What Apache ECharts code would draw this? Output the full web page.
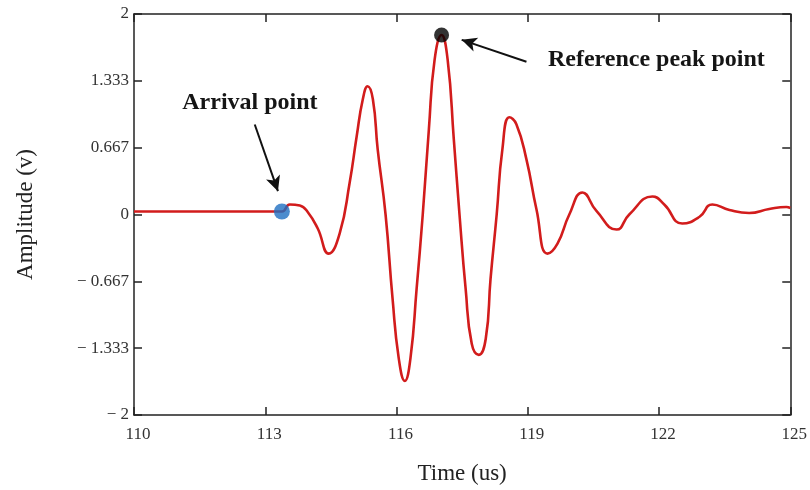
<!DOCTYPE html>
<html>
<head>
<meta charset="utf-8">
<script src="https://cdn.jsdelivr.net/npm/echarts@6/dist/echarts.min.js"></script>
<style>html,body{margin:0;padding:0;background:#fff}#c{width:810px;height:490px}</style>
</head>
<body>
<div id="c"></div>
<script>
// time (us)
var timeUs = [110.0, 111.0, 112.0, 113.0, 113.38, 113.56, 113.79, 113.97, 114.20, 114.45, 114.70, 114.93, 115.09, 115.23, 115.34, 115.46, 115.57, 115.75, 115.91, 116.05, 116.19, 116.32, 116.46, 116.60, 116.74, 116.87, 117.03, 117.17, 117.31, 117.44, 117.58, 117.72, 117.88, 118.04, 118.15, 118.29, 118.42, 118.58, 118.74, 118.97, 119.20, 119.45, 119.68, 119.95, 120.25, 120.57, 121.03, 121.32, 121.85, 122.12, 122.53, 122.92, 123.22, 123.61, 124.06, 124.52, 124.91, 125.0];
// amplitude (v)
var amplitude = [0.03, 0.03, 0.03, 0.03, 0.03, 0.10, 0.09, 0.025, -0.14, -0.39, -0.19, 0.32, 0.78, 1.15, 1.28, 1.15, 0.65, 0.0, -0.84, -1.43, -1.66, -1.43, -0.74, 0.0, 0.85, 1.54, 1.79, 1.54, 0.75, 0.0, -0.74, -1.29, -1.40, -1.24, -0.64, 0.0, 0.65, 0.97, 0.90, 0.55, 0.05, -0.39, -0.29, 0.0, 0.22, 0.035, -0.15, 0.0, 0.18, 0.10, -0.09, -0.025, 0.10, 0.045, 0.015, 0.055, 0.075, 0.065];
var arrivalPoint = [113.38, 0.03];
var peakPoint = [117.03, 1.79];
var xTicks = [110, 113, 116, 119, 122, 125];
var yTicks = [-2, -1.333, -0.667, 0, 0.667, 1.333, 2];
var annotations = [
  {text: 'Arrival point', pos: [112.65, 1.116], arrowFrom: [112.76, 0.898], arrowTo: [113.29, 0.233]},
  {text: 'Reference peak point', pos: [121.94, 1.543], arrowFrom: [118.97, 1.524], arrowTo: [117.49, 1.742]}
];

var waveData = timeUs.map(function (t, i) { return [t, amplitude[i]]; });
var serif = 'Liberation Serif, Times New Roman, serif';
function yFmt(v) {
  var r = parseFloat(v.toFixed(3));
  if (Math.abs(r) < 1e-9) return '0';
  return r < 0 ? '\u2212 ' + Math.abs(r) : String(r);
}
var axisLineStyle = {color: '#222', width: 1.5};
var chart = echarts.init(document.getElementById('c'));
chart.setOption({
  animation: false,
  backgroundColor: '#fff',
  grid: {left: 134, right: 19, top: 14, bottom: 73},
  xAxis: [{
    type: 'value', min: xTicks[0], max: xTicks[xTicks.length - 1], interval: 3,
    name: 'Time (us)', nameLocation: 'middle', nameGap: 47,
    nameTextStyle: {fontFamily: serif, fontSize: 23, color: '#222'},
    axisLine: {onZero: false, lineStyle: axisLineStyle},
    axisTick: {inside: true, length: 8, lineStyle: axisLineStyle},
    axisLabel: {fontFamily: serif, fontSize: 17, color: '#333', margin: 11, padding: [0, 0, 0, 8]},
    splitLine: {show: false}
  }, {
    type: 'value', position: 'top', min: xTicks[0], max: xTicks[xTicks.length - 1], interval: 3,
    axisLine: {show: true, onZero: false, lineStyle: axisLineStyle},
    axisTick: {show: true, inside: true, length: 8, lineStyle: axisLineStyle},
    axisLabel: {show: false}, splitLine: {show: false}
  }],
  yAxis: [{
    type: 'value', min: yTicks[0], max: yTicks[yTicks.length - 1], interval: 2 / 3,
    name: 'Amplitude (v)', nameLocation: 'middle', nameGap: 97, nameRotate: 90,
    nameTextStyle: {fontFamily: serif, fontSize: 23, color: '#222'},
    axisLine: {show: true, onZero: false, lineStyle: axisLineStyle},
    axisTick: {show: true, inside: true, length: 8, lineStyle: axisLineStyle},
    axisLabel: {fontFamily: serif, fontSize: 17, color: '#333', margin: 5, formatter: yFmt},
    splitLine: {show: false}
  }, {
    type: 'value', position: 'right', min: yTicks[0], max: yTicks[yTicks.length - 1], interval: 2 / 3,
    axisLine: {show: true, onZero: false, lineStyle: axisLineStyle},
    axisTick: {show: true, inside: true, length: 8, lineStyle: axisLineStyle},
    axisLabel: {show: false}, splitLine: {show: false}
  }],
  series: [{
    type: 'line', data: waveData, smooth: 0.5, showSymbol: false,
    lineStyle: {color: '#d21c1c', width: 2.6},
    z: 2,
    markLine: {
      silent: true, symbol: ['none', 'arrow'], symbolSize: [11, 15],
      lineStyle: {color: '#111', width: 2, type: 'solid'},
      label: {show: false},
      data: annotations.map(function (a) { return [{coord: a.arrowFrom}, {coord: a.arrowTo}]; })
    },
    markPoint: {
      silent: true, symbol: 'circle', symbolSize: 1,
      itemStyle: {color: 'rgba(0,0,0,0)'},
      data: annotations.map(function (a) {
        return {coord: a.pos, value: a.text, label: {show: true, position: 'inside', formatter: a.text,
          fontFamily: serif, fontWeight: 'bold', fontSize: 24, color: '#151515'}};
      })
    }
  }, {
    type: 'scatter', data: [arrivalPoint], symbolSize: 16, itemStyle: {color: '#1f6fc2'}, z: 3
  }, {
    type: 'scatter', data: [peakPoint], symbolSize: 15, itemStyle: {color: '#000'}, z: 3
  }]
});
</script>
</body>
</html>
